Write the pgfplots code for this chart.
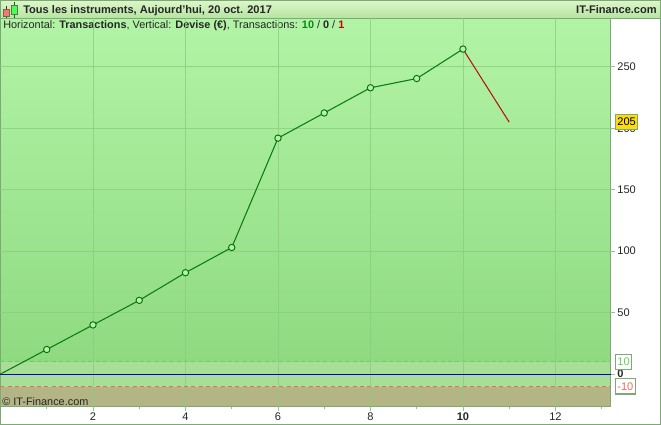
\documentclass[border=0pt]{standalone}
\usepackage{fontspec}
\setmainfont{Liberation Sans}
\usepackage{pgfplots}
\pgfplotsset{compat=1.18}
\definecolor{frameg}{HTML}{7DAA74}
\definecolor{bgtop}{HTML}{B2F4A6}
\definecolor{bgbot}{HTML}{8FDA81}
\definecolor{midband}{HTML}{A8DE95}
\definecolor{lowband}{HTML}{B3B585}
\definecolor{gridg}{HTML}{8CCB80}
\definecolor{lineg}{HTML}{0B8A12}
\definecolor{liner}{HTML}{B5121B}
\definecolor{tbtop}{HTML}{DDF7CA}
\definecolor{tbbot}{HTML}{B6E4A2}
\definecolor{dashg}{HTML}{66D060}
\definecolor{dashr}{HTML}{EE6A60}
\begin{document}
\begin{tikzpicture}
\useasboundingbox (0,0) rectangle (495.75pt,-318.75pt);
\begin{scope}[x=0.75pt,y=-0.75pt]
\fill[white] (0,0) rectangle (661,425);
\shade[top color=bgtop,bottom color=bgbot] (1,18) rectangle (610.5,362);
\fill[midband] (1,362) rectangle (610.5,386.5);
\fill[lowband] (1,386.5) rectangle (610.5,406.5);
\shade[top color=tbtop,bottom color=tbbot] (0,0) rectangle (661,18);
\draw[frameg,line width=0.75pt] (0,18) -- (661,18);
\draw[frameg,line width=1.5pt] (0,0) rectangle (661,425);
\draw[frameg,line width=0.75pt] (610.5,18) -- (610.5,406.5) -- (1,406.5);
% title icon
\draw[red!70!black] (6.5,6) -- (6.5,18);
\draw[frameg!70!black,fill=red!55!white,line width=0.4pt] (3.5,9.5) rectangle (9.5,16);
\draw[green!45!black] (14.5,2) -- (14.5,18);
\draw[frameg!70!black,fill=green!70!white,line width=0.4pt] (11.5,5) rectangle (17.5,14.5);
\node[anchor=base west,inner sep=0pt,font=\fontsize{8.3pt}{10pt}\selectfont\bfseries,text=black!85] at (23,13) {Tous les instruments, Aujourd'hui, 20 oct. 2017};
\node[anchor=base east,inner sep=0pt,font=\fontsize{8.3pt}{10pt}\selectfont\bfseries,text=black!85] at (657,13) {IT-Finance.com};
\node[anchor=base west,inner sep=0pt,font=\fontsize{8.17pt}{10pt}\selectfont,text=black!85] at (3,28) {Horizontal: \textbf{Transactions}, Vertical: \textbf{Devise (€)}, Transactions: \textcolor{lineg}{\textbf{10}} / \textbf{0} / \textcolor{red!80!black}{\textbf{1}}};
\node[anchor=base west,inner sep=0pt,font=\fontsize{8.17pt}{10pt}\selectfont,text=black!85] at (2,405) {© IT-Finance.com};
\coordinate (sw) at (0.5,406.5);
\end{scope}
\begin{axis}[
  at={(sw)},anchor=south west,
  scale only axis,
  width=457.5pt,height=291.4pt,
  xmin=0,xmax=13.19,ymin=-26.4,ymax=289.8,
  axis line style={draw=none},
  clip=false,
  xtick={2,4,6,8,10,12},
  minor xtick={1,3,5,7,9,11,13},
  xticklabels={2,4,6,8,\textbf{10},12},
  ytick={0,50,100,150,200,250},
  yticklabels={\textbf{0},50,100,150,200,250},
  ymajorgrids,xmajorgrids,
  grid style={gridg,line width=0.6pt,opacity=0.75},
  minor grid style={draw=none},
  tick style={gridg,line width=0.6pt},
  major tick length=3pt,
  minor tick length=2pt,
  tick align=outside,
  xtick pos=bottom,
  ytick pos=right,
  yticklabel pos=right,
  ticklabel style={font=\fontsize{8.3pt}{10pt}\selectfont,text=black!85},
  /pgf/number format/assume math mode=true,
  xticklabel style={yshift=1.6pt},
  yticklabel style={xshift=-1.4pt},
]
\addplot[dashg,line width=0.6pt,dash pattern=on 3pt off 2.5pt] coordinates {(0,10) (13.19,10)};
\addplot[dashr,line width=0.6pt,dash pattern=on 3pt off 2.5pt] coordinates {(0,-10) (13.19,-10)};
\addplot[blue!85!black,line width=0.75pt] coordinates {(0,0) (13.19,0)};
\addplot[liner,line width=0.8pt] coordinates {(10,264.5) (11,205)};
\addplot[lineg!90!black,line width=0.8pt] coordinates {(0,0) (1,20)};
\addplot[lineg!90!black,line width=0.8pt,mark=*,mark size=2.4pt,mark options={fill=bgtop,draw=lineg!80!black,line width=0.7pt}]
 coordinates {(1,20) (2,40) (3,60) (4,82.5) (5,103) (6,192) (7,212.5) (8,233) (9,240.5) (10,264.5)};
\node[anchor=west,draw=frameg,fill=white,line width=0.8pt,inner xsep=1.3pt,inner ysep=0pt,minimum height=11.5pt,font=\fontsize{8.3pt}{10pt}\selectfont,text=dashg] at (axis cs:13.29,10) {10};
\node[anchor=west,draw=frameg,fill=white,line width=0.8pt,inner xsep=1.3pt,inner ysep=0pt,minimum height=11.5pt,font=\fontsize{8.3pt}{10pt}\selectfont,text=dashr] at (axis cs:13.29,-10) {-10};
\node[anchor=west,draw=frameg,fill=yellow!80!orange,line width=0.8pt,inner xsep=1.3pt,inner ysep=0pt,minimum height=11.5pt,font=\fontsize{8.3pt}{10pt}\selectfont,text=black] at (axis cs:13.29,205) {205};
\end{axis}
\end{tikzpicture}
\end{document}
